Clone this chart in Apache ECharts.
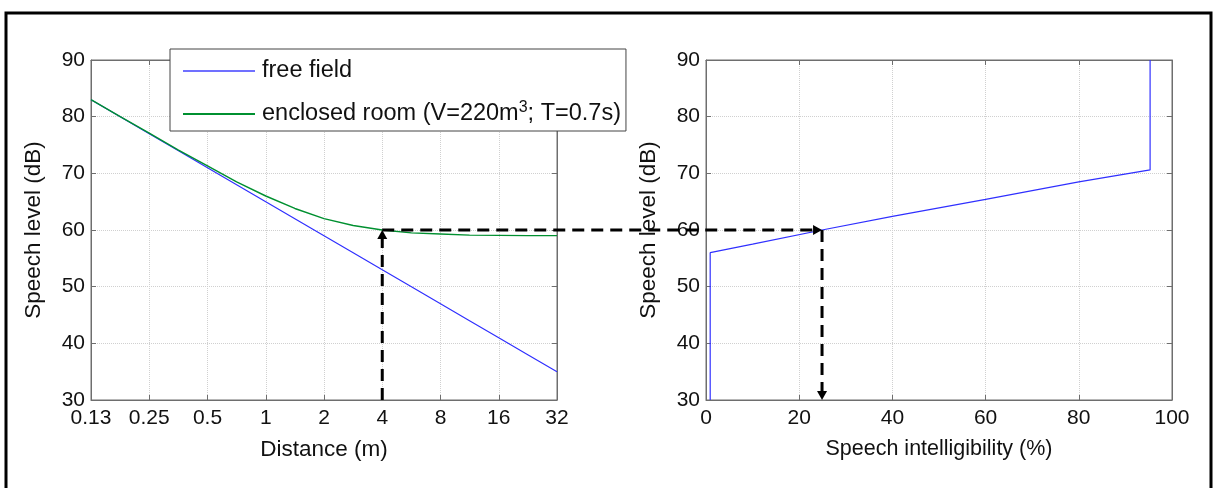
<!DOCTYPE html>
<html>
<head>
<meta charset="utf-8">
<script src="https://cdn.jsdelivr.net/npm/echarts@6/dist/echarts.min.js"></script>
<style>
html, body { margin: 0; padding: 0; background: #fff; }
#container { width: 1215px; height: 488px; }
</style>
</head>
<body>
<div id="container"></div>
<script>
// left panel: speech level vs distance
var distance = [0.125, 0.177, 0.25, 0.354, 0.5, 0.707, 1, 1.414, 2, 2.83, 4, 5.66, 8, 11.3, 16, 22.6, 32];
var freeField = [83, 80, 77, 74, 71, 68, 65, 62, 59, 56, 53, 50, 47, 44, 41, 38, 35];
var enclosedRoom = [83, 80, 77.1, 74.1, 71.3, 68.5, 66, 63.8, 62, 60.8, 60, 59.5, 59.3, 59.1, 59.05, 59, 59];
var distanceTicks = ['0.13', '0.25', '0.5', '1', '2', '4', '8', '16', '32'];

// right panel: speech level vs intelligibility
var intelligibility = [0.9, 0.9, 10, 24.9, 40, 60, 80, 95.3, 95.3];
var intelLevel = [30, 56, 57.5, 60, 62.4, 65.4, 68.5, 70.6, 90];

// reading example (dashed arrows)
var readDistance = 4, readLevel = 60, readIntel = 24.9, levelMin = 30;

var FONT = 'Liberation Sans, Arial, sans-serif';
var gridColor = '#d0d0d0';
var boxColor = '#6e6e6e';
var blue = '#3030ff', green = '#009030';

function toPairs(xs, ys) {
	var out = [];
	for (var i = 0; i < xs.length; i++) out.push([xs[i], ys[i]]);
	return out;
}

function baseAxis(gridIndex) {
	return {
		gridIndex : gridIndex,
		axisLine : { show : true, onZero : false, lineStyle : { color : boxColor, width : 1 } },
		axisTick : { show : true, inside : true, length : 5, lineStyle : { color : boxColor } },
		axisLabel : { color : '#111', fontSize : 21, fontFamily : FONT },
		splitLine : { show : true, lineStyle : { color : gridColor, type : 'dotted', width : 1 } },
		nameTextStyle : { color : '#111', fontSize : 22.5, fontFamily : FONT },
	};
}

function mirrorAxis(gridIndex, pos, extra) {
	var a = baseAxis(gridIndex);
	a.position = pos;
	a.axisLabel = { show : false };
	a.splitLine = { show : false };
	return Object.assign(a, extra);
}

var dom = document.getElementById('container');
var myChart = echarts.init(dom);

var xLog = Object.assign(baseAxis(0), {
	type : 'log', logBase : 2, min : 0.125, max : 32,
	name : 'Distance (m)', nameLocation : 'middle', nameGap : 38
});
xLog.axisLabel.margin = 8;
xLog.axisLabel.formatter = function(v, i) { return distanceTicks[i]; };

var xPct = Object.assign(baseAxis(1), {
	type : 'value', min : 0, max : 100, interval : 20,
	name : 'Speech intelligibility (%)', nameLocation : 'middle', nameGap : 38
});
xPct.axisLabel.margin = 8;
xPct.nameTextStyle.fontSize = 21.5;

function yLevel(gridIndex) {
	var a = Object.assign(baseAxis(gridIndex), {
		type : 'value', min : 30, max : 90, interval : 10,
		name : 'Speech level (dB)', nameLocation : 'middle', nameGap : 46
	});
	a.axisLabel.margin = 6;
	return a;
}

var option = {
	backgroundColor : '#fff',
	animation : false,
	grid : [
		{ left : 91, top : 60, width : 466, height : 340, show : true, borderColor : boxColor, borderWidth : 1 },
		{ left : 706, top : 60, width : 466, height : 340, show : true, borderColor : boxColor, borderWidth : 1 }
	],
	legend : {
		data : [
			{ name : 'free field', icon : 'rect', itemStyle : { color : '#7070ff' } },
			{ name : 'enclosed room (V=220m³; T=0.7s)', icon : 'rect', itemStyle : { color : green } }
		],
		orient : 'vertical',
		left : 170,
		top : 49,
		z : 10,
		backgroundColor : '#fff',
		borderColor : '#444',
		borderWidth : 1,
		borderRadius : 0,
		padding : [ 9, 5, 4, 13 ],
		itemGap : 16,
		itemWidth : 72,
		itemHeight : 2,
		formatter : function(name) { return name.replace('³', '{sup|3}'); },
		textStyle : {
			fontSize : 23.5, color : '#111', fontFamily : FONT, lineHeight : 26, padding : [ 0, 0, 0, 2 ],
			rich : { sup : { fontSize : 16, fontFamily : FONT, color : '#111', padding : [ 0, 0, 12, 0 ] } }
		}
	},
	xAxis : [
		xLog,
		xPct,
		mirrorAxis(0, 'top', { type : 'log', logBase : 2, min : 0.125, max : 32 }),
		mirrorAxis(1, 'top', { type : 'value', min : 0, max : 100, interval : 20 })
	],
	yAxis : [
		yLevel(0),
		yLevel(1),
		mirrorAxis(0, 'right', { type : 'value', min : 30, max : 90, interval : 10 }),
		mirrorAxis(1, 'right', { type : 'value', min : 30, max : 90, interval : 10 })
	],
	series : [ {
		name : 'free field',
		type : 'line',
		xAxisIndex : 0,
		yAxisIndex : 0,
		symbol : 'none',
		lineStyle : { color : blue, width : 1.2 },
		itemStyle : { color : blue },
		data : toPairs(distance, freeField)
	}, {
		name : 'enclosed room (V=220m³; T=0.7s)',
		type : 'line',
		xAxisIndex : 0,
		yAxisIndex : 0,
		symbol : 'none',
		lineStyle : { color : green, width : 1.4 },
		itemStyle : { color : green },
		data : toPairs(distance, enclosedRoom)
	}, {
		name : 'intelligibility',
		type : 'line',
		xAxisIndex : 1,
		yAxisIndex : 1,
		symbol : 'none',
		lineStyle : { color : blue, width : 1.2 },
		data : toPairs(intelligibility, intelLevel)
	} ]
};
myChart.setOption(option, true);

// dashed reading arrows, placed through the axes' own scales
var pA = myChart.convertToPixel({ xAxisIndex : 0, yAxisIndex : 0 }, [ readDistance, levelMin ]);
var pB = myChart.convertToPixel({ xAxisIndex : 0, yAxisIndex : 0 }, [ readDistance, readLevel ]);
var pC = myChart.convertToPixel({ xAxisIndex : 1, yAxisIndex : 1 }, [ readIntel, readLevel ]);
var pD = myChart.convertToPixel({ xAxisIndex : 1, yAxisIndex : 1 }, [ readIntel, levelMin ]);

var dash = { stroke : '#000', lineWidth : 3, lineDash : [ 12, 7 ], fill : null };
function seg(a, b) {
	return { type : 'line', z : 20, shape : { x1 : a[0], y1 : a[1], x2 : b[0], y2 : b[1] }, style : dash };
}
function head(tip, dir) {
	var s = 5, l = 9, pts;
	if (dir === 'up') pts = [ [ tip[0], tip[1] ], [ tip[0] - s, tip[1] + l ], [ tip[0] + s, tip[1] + l ] ];
	else if (dir === 'down') pts = [ [ tip[0], tip[1] ], [ tip[0] - s, tip[1] - l ], [ tip[0] + s, tip[1] - l ] ];
	else pts = [ [ tip[0], tip[1] ], [ tip[0] - l, tip[1] - s ], [ tip[0] - l, tip[1] + s ] ];
	return { type : 'polygon', z : 21, shape : { points : pts }, style : { fill : '#000' } };
}

myChart.setOption({
	graphic : [
		{ type : 'rect', z : 0, shape : { x : 6, y : 13, width : 1205, height : 500 },
		  style : { fill : null, stroke : '#000', lineWidth : 3 } },
		seg([ pA[0], pA[1] ], [ pB[0], pB[1] + 8 ]),
		seg([ pB[0], pB[1] ], [ pC[0] - 8, pC[1] ]),
		seg([ pC[0], pC[1] ], [ pD[0], pD[1] - 8 ]),
		head(pB, 'up'),
		head(pC, 'right'),
		head(pD, 'down')
	]
});
</script>
</body>
</html>
